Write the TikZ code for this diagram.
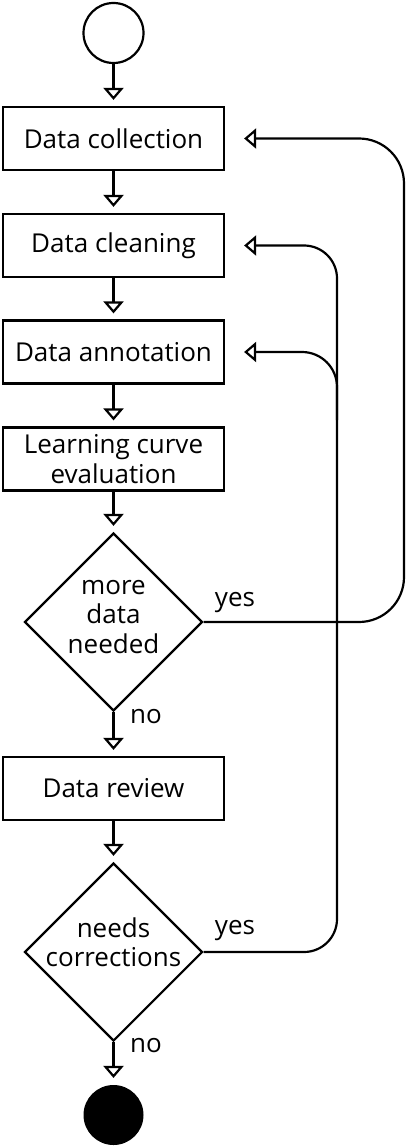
\documentclass[tikz,border=0pt]{standalone}
\usepackage{fontspec}
\setmainfont{Open Sans}
\usetikzlibrary{shapes.geometric,arrows.meta}
\begin{document}
\begin{tikzpicture}[x=1pt,y=-1pt,
  font=\fontsize{26}{29.5}\selectfont,
  line width=2.2pt,
  stepbox/.style={draw, minimum width=221pt, minimum height=63pt, inner sep=0pt},
  decision/.style={draw, diamond, aspect=1, minimum width=178pt, minimum height=178pt, inner sep=0pt},
  flow/.style={-{Triangle[open,length=12pt,width=20pt]}, shorten >=6pt},
  back/.style={-{Triangle[open,length=12pt,width=20pt]}, shorten >=19pt},
  lbl/.style={inner sep=0pt}]
  \useasboundingbox (0,0) rectangle (406,1147);

  % activity nodes
  \node[circle, draw, minimum size=60pt, inner sep=0pt] (start) at (113.5,33) {};
  \node[stepbox] (collect) at (113.5,138.5) {Data collection};
  \node[stepbox] (clean) at (113.5,245.5) {Data cleaning};
  \node[stepbox] (annot) at (113.5,352) {Data annotation};
  \node[stepbox, align=center] (curve) at (113.5,459) {Learning curve\\evaluation};
  \node[decision] (more) at (113.5,622) {};
  \node[align=center, inner sep=0pt] (moretxt) at (113.5,617) {more\\data\\needed};
  \node[stepbox] (review) at (113.5,788.5) {Data review};
  \node[decision] (fix) at (113.5,952) {};
  \node[align=center, inner sep=0pt] (fixtxt) at (113.5,942) {needs\\corrections};
  \node[circle, fill, minimum size=60pt, inner sep=0pt] (stop) at (113.5,1115) {};

  % main flow
  \draw[flow] (start) -- (collect);
  \draw[flow] (collect) -- (clean);
  \draw[flow] (clean) -- (annot);
  \draw[flow] (annot) -- (curve);
  \draw[flow] (curve) -- (more);
  \draw[flow] (more.south) -- (review);
  \draw[flow] (review) -- (fix);
  \draw[flow] (fix.south) -- (stop);

  % branch labels
  \node[lbl] (no1) at (146,717) {no};
  \node[lbl] (no2) at (146,1046) {no};
  \node[lbl] (yes1) at (235,603) {yes};
  \node[lbl] (yes2) at (235,931) {yes};

  % feedback loops
  \draw[back, rounded corners=45pt] (more.east) -- (404,622) -- (404,138.5) -- (collect.east);
  \draw[back, rounded corners=33pt] (fix.east) -- (337,952) -- (337,245.5) -- (clean.east);
  \coordinate (join) at (337,420);
  \draw[back, rounded corners=35pt] (join) -- (337,352) -- (annot.east);
\end{tikzpicture}
\end{document}
